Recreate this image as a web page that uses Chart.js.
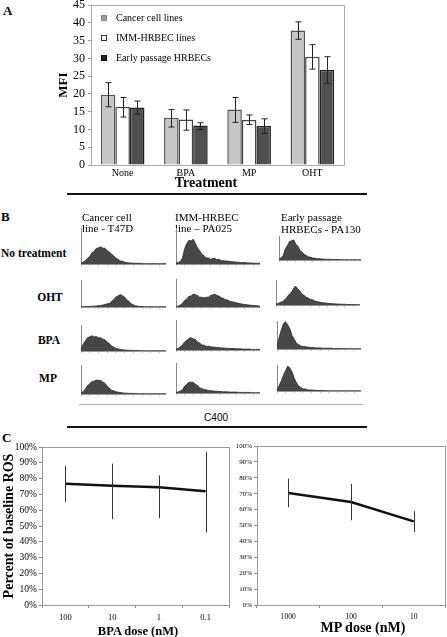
<!DOCTYPE html>
<html>
<head>
<meta charset="utf-8">
<script src="https://cdn.jsdelivr.net/npm/chart.js@4.4.1/dist/chart.umd.min.js"></script>
<style>
body { margin: 0; background: #fff; width: 447px; height: 637px; overflow: hidden; position: relative; font-family: "Liberation Serif", serif; }
canvas { position: absolute; }
.t { position: absolute; white-space: nowrap; line-height: 1; color: #000; }
.hr { position: absolute; }
.box { position: absolute; width: 6px; height: 6px; box-sizing: border-box; }
</style>
</head>
<body>
<script>
// panel A - MFI per treatment
const treatments = ['None', 'BPA', 'MP', 'OHT'];
const cancerMean = [19.8, 13.3, 15.6, 37.9];
const cancerLow  = [16.4, 10.7, 12.0, 35.4];
const cancerHigh = [23.2, 15.6, 19.0, 40.3];
const immMean  = [16.4, 12.8, 12.7, 30.5];
const immLow   = [13.5, 9.8, 11.4, 27.0];
const immHigh  = [19.0, 15.5, 14.1, 33.9];
const earlyMean = [16.2, 11.1, 11.0, 26.8];
const earlyLow  = [14.3, 10.0, 8.9, 23.0];
const earlyHigh = [18.0, 11.9, 13.0, 30.5];

// panel B - flow histograms (% of plot height per bin)
const t47dNone  = [2,5,9,16,21,31,35,43,45,48,44,44,37,34,27,23,16,13,8,8,5,4,3,3,2,2,2,2,1,1,1,1,1,1,1,1,1,1,1,1];
const pa025None = [3,4,7,17,42,57,66,64,69,57,45,37,27,23,17,17,13,15,16,12,13,9,10,8,8,7,6,6,5,5,4,4,4,3,3,3,2,2,2,2];
const pa130None = [3,9,19,46,60,77,80,84,66,57,40,33,23,19,13,12,8,8,5,6,4,4,3,3,3,2,2,2,2,2,1,1,1,1,1,1,1,1,1,1];
const t47dOht   = [1,1,2,2,2,3,3,4,5,6,7,9,12,13,21,27,37,41,46,42,37,27,21,12,8,5,3,2,2,1,1,1,1,1,1,1,1,1,1,1];
const pa025Oht  = [2,3,7,13,23,29,38,39,46,44,41,35,35,32,35,35,41,43,46,41,39,33,31,26,25,20,19,17,15,13,12,10,9,8,7,6,5,5,4,3];
const pa130Oht  = [3,6,11,13,21,29,42,48,63,76,66,57,44,39,31,28,22,21,16,14,12,10,9,8,7,6,5,5,4,4,3,3,3,2,2,2,2,2,1,1];
const t47dBpa   = [8,26,39,51,55,59,54,56,51,51,46,43,35,29,19,15,10,8,6,5,4,3,3,2,2,2,2,1,1,1,1,1,1,1,1,1,1,1,1,1];
const pa025Bpa  = [3,5,11,17,27,32,39,41,37,35,27,23,17,16,12,13,11,10,9,8,8,7,7,6,6,5,5,5,4,4,4,3,3,3,3,2,2,2,2,2];
const pa130Bpa  = [10,42,68,91,97,86,72,48,35,21,16,11,9,8,7,6,5,5,4,4,4,3,3,3,3,3,2,2,2,2,2,2,1,1,1,1,1,1,1,1];
const t47dMp    = [3,9,17,29,35,43,44,48,47,47,41,37,27,21,13,11,8,6,5,4,3,3,2,2,2,2,1,1,1,1,1,1,1,1,1,1,1,1,1,1];
const pa025Mp   = [2,3,7,11,23,29,36,36,36,29,25,17,15,11,11,8,8,7,6,6,5,5,4,4,4,3,3,3,3,2,2,2,2,2,2,1,1,1,1,1];
const pa130Mp   = [5,21,39,61,79,96,88,74,49,33,19,14,8,8,5,4,4,3,3,2,2,2,2,1,1,1,1,1,1,1,1,1,1,1,1,1,1,1,1,1];

// panel C - percent of baseline ROS
const bpaDoses = ['100', '10', '1', '0.1'];
const bpaRos   = [76.8, 75.4, 74.5, 72.0];
const bpaLow   = [65.3, 54.3, 55.0, 46.0];
const bpaHigh  = [88.0, 89.5, 82.0, 97.0];
const mpDoses = ['1000', '100', '10'];
const mpRos   = [70.5, 64.8, 52.6];
const mpLow   = [61.5, 53.3, 45.9];
const mpHigh  = [79.4, 76.2, 59.0];

Chart.defaults.font.family = '"Liberation Serif", serif';
Chart.defaults.color = '#000';

function addCanvas(left, top, w, h) {
    const c = document.createElement('canvas');
    c.width = w; c.height = h;
    c.style.left = left + 'px'; c.style.top = top + 'px';
    document.body.appendChild(c);
    return c;
}

// y is the vertical centre of the text
function txt(s, x, y, size, opts) {
    opts = opts || {};
    const d = document.createElement('div');
    d.className = 't';
    d.textContent = s;
    d.style.fontSize = size + 'px';
    if (opts.bold) d.style.fontWeight = 'bold';
    if (opts.family) d.style.fontFamily = opts.family;
    let tx = '0';
    if (opts.align === 'c') tx = '-50%';
    if (opts.align === 'r') tx = '-100%';
    d.style.left = x + 'px';
    d.style.top = y + 'px';
    d.style.transform = 'translate(' + tx + ',-50%)';
    document.body.appendChild(d);
}

function hline(x1, x2, y, color, w) {
    const d = document.createElement('div');
    d.className = 'hr';
    d.style.left = x1 + 'px'; d.style.top = y + 'px';
    d.style.width = (x2 - x1) + 'px'; d.style.height = w + 'px';
    d.style.background = color;
    document.body.appendChild(d);
}

const frame = {
    id: 'frame',
    afterDraw(chart, args, opts) {
        const a = chart.chartArea, ctx = chart.ctx;
        ctx.save();
        ctx.strokeStyle = opts.color || '#aaa';
        ctx.lineWidth = 1;
        ctx.strokeRect(Math.round(a.left) + 0.5, Math.round(a.top) + 0.5, Math.round(a.right - a.left), Math.round(a.bottom - a.top));
        ctx.restore();
    }
};

const errorBars = {
    id: 'errorBars',
    afterDatasetsDraw(chart, args, opts) {
        const ctx = chart.ctx, y = chart.scales.y;
        chart.data.datasets.forEach((ds, i) => {
            if (!ds.errLow) return;
            chart.getDatasetMeta(i).data.forEach((el, j) => {
                const top = y.getPixelForValue(ds.errHigh[j]);
                const bot = y.getPixelForValue(ds.errLow[j]);
                const x = Math.round(el.x) + 0.5;
                ctx.save();
                ctx.strokeStyle = opts.color;
                ctx.lineWidth = 1;
                ctx.beginPath();
                ctx.moveTo(x, top); ctx.lineTo(x, bot);
                if (opts.cap) {
                    ctx.moveTo(x - opts.cap, top); ctx.lineTo(x + opts.cap, top);
                    ctx.moveTo(x - opts.cap, bot); ctx.lineTo(x + opts.cap, bot);
                }
                ctx.stroke();
                ctx.restore();
            });
        });
    }
};

// ---------- A ----------
txt('A', 3, 10, 13, {bold: true});
new Chart(addCanvas(52, -5, 300, 190), {
    type: 'bar',
    data: {
        labels: treatments,
        datasets: [
            {label: 'Cancer cell lines', data: cancerMean, errLow: cancerLow, errHigh: cancerHigh,
             backgroundColor: '#c6c6c6', borderColor: '#555', borderWidth: 1.5},
            {label: 'IMM-HRBEC lines', data: immMean, errLow: immLow, errHigh: immHigh,
             backgroundColor: '#ffffff', borderColor: '#444', borderWidth: 1.5},
            {label: 'Early passage HRBECs', data: earlyMean, errLow: earlyLow, errHigh: earlyHigh,
             backgroundColor: '#505050', borderColor: '#222', borderWidth: 1.5}
        ]
    },
    options: {
        responsive: false, animation: false,
        layout: {padding: {top: 10, right: 8, left: 0, bottom: 0}},
        datasets: {bar: {categoryPercentage: 0.69, barPercentage: 1}},
        plugins: {legend: {display: false}, tooltip: {enabled: false},
                  frame: {color: '#aaa'}, errorBars: {color: '#222', cap: 3}},
        scales: {
            x: {grid: {display: false, drawTicks: false}, border: {color: '#aaa'},
                ticks: {padding: 2, font: {size: 10}},
                afterFit(s) { s.height = 20; }},
            y: {min: 0, max: 45,
                ticks: {stepSize: 5, padding: 3, font: {size: 12}},
                grid: {display: true, drawOnChartArea: false, tickLength: 3, color: '#999'},
                border: {color: '#aaa'},
                title: {display: true, text: 'MFI', font: {size: 13, weight: 'bold'}, padding: {top: 4, bottom: 0}},
                afterFit(s) { s.width = 39; }}
        }
    },
    plugins: [frame, errorBars]
});

// legend inside panel A
const legendItems = [['Cancer cell lines', '#9a9a9a', '#888'], ['IMM-HRBEC lines', '#fff', '#333'], ['Early passage HRBECs', '#222', '#111']];
legendItems.forEach((it, i) => {
    const b = document.createElement('div');
    b.className = 'box';
    b.style.left = '101px'; b.style.top = (15 + i * 20) + 'px';
    b.style.background = it[1]; b.style.border = '1px solid ' + it[2];
    document.body.appendChild(b);
    txt(it[0], 116, 18 + i * 20, 10);
});
txt('Treatment', 206, 183, 14, {bold: true, align: 'c'});
hline(67, 367, 193, '#111', 1.5);

// ---------- B ----------
txt('B', 1, 216, 13, {bold: true});
txt('Cancer cell', 82, 217, 11);
txt('line - T47D', 82, 228, 11);
txt('IMM-HRBEC', 175, 217, 11);
txt('line \u2013 PA025', 175, 228, 11);
txt('Early passage', 281, 217, 11);
txt('HRBECs - PA130', 281, 228.5, 11);
txt('No treatment', 1, 254, 11.5, {bold: true});
txt('OHT', 50, 298, 11.5, {bold: true, align: 'c'});
txt('BPA', 49, 341, 11.5, {bold: true, align: 'c'});
txt('MP', 48, 379, 11.5, {bold: true, align: 'c'});

const histograms = [t47dNone, pa025None, pa130None, t47dOht, pa025Oht, pa130Oht,
                    t47dBpa, pa025Bpa, pa130Bpa, t47dMp, pa025Mp, pa130Mp];
// [left, top, right, bottom] of each histogram's axes
const histBoxes = [
    [80, 228, 165, 264], [175, 228, 259, 264], [278, 236, 360, 260],
    [80, 280, 165, 307], [175, 279, 259, 307], [275, 280, 359, 305],
    [80, 325, 165, 351], [175, 320, 259, 350], [276, 321, 360, 349],
    [80, 365, 165, 394], [175, 363, 259, 393], [276, 365, 360, 391]
];
const bins = t47dNone.map((_, i) => i);
histBoxes.forEach((p, k) => {
    new Chart(addCanvas(p[0], p[1], p[2] - p[0] + 1, p[3] - p[1] + 3), {
        type: 'line',
        data: {labels: bins, datasets: [{data: histograms[k], fill: 'origin',
            backgroundColor: '#474747', borderColor: '#2a2a2a', borderWidth: 0.8, pointRadius: 0, tension: 0}]},
        options: {
            responsive: false, animation: false,
            layout: {padding: 0},
            plugins: {legend: {display: false}, tooltip: {enabled: false}},
            scales: {
                x: {grid: {display: true, drawOnChartArea: false, tickLength: 2,
                           color: c => (c.index % 4 ? 'rgba(0,0,0,0)' : '#bbb')},
                    ticks: {display: false, autoSkip: false}, border: {color: '#999'},
                    afterFit(s) { s.height = 3; }},
                y: {min: 0, max: 100, grid: {display: false, drawTicks: false},
                    ticks: {display: false}, border: {color: '#888'},
                    afterFit(s) { s.width = 1; }}
            }
        }
    });
});

hline(79, 363, 404, '#aaa', 1);
txt('C400', 228, 418, 10, {align: 'r', family: '"Liberation Sans", sans-serif'});
hline(67, 367, 426, '#111', 1.5);

// ---------- C ----------
txt('C', 2, 437, 13, {bold: true});

function rosChart(canvas, doses, ros, lo, hi, yWidth, padRight, tickSize, xSize, yTitle) {
    new Chart(canvas, {
        type: 'line',
        data: {labels: doses, datasets: [{data: ros, errLow: lo, errHigh: hi,
            borderColor: '#111', borderWidth: 2.5, pointRadius: 0, tension: 0, fill: false}]},
        options: {
            responsive: false, animation: false,
            layout: {padding: {top: 10, right: padRight, left: 0, bottom: 0}},
            plugins: {legend: {display: false}, tooltip: {enabled: false},
                      frame: {color: '#999'}, errorBars: {color: '#333', cap: 0}},
            scales: {
                x: {type: 'category', offset: true,
                    grid: {display: true, offset: true, drawOnChartArea: false, tickLength: 3, color: '#888'},
                    ticks: {padding: 5, font: {size: xSize}}, border: {color: '#999'},
                    afterFit(s) { s.height = 32; }},
                y: {min: 0, max: 100,
                    ticks: {stepSize: 10, padding: 2, font: {size: tickSize}, callback: v => v + '%'},
                    grid: {display: true, drawOnChartArea: false, tickLength: 3, color: '#888'},
                    border: {color: '#999'},
                    title: {display: !!yTitle, text: yTitle || '', font: {size: 14, weight: 'bold'}, padding: {top: 1, bottom: 0}},
                    afterFit(s) { s.width = yWidth; }}
            }
        },
        plugins: [frame, errorBars]
    });
}

rosChart(addCanvas(0, 437, 232, 200), bpaDoses, bpaRos, bpaLow, bpaHigh, 42, 3, 9.5, 8.5, 'Percent of baseline ROS');
rosChart(addCanvas(230, 436, 217, 201), mpDoses, mpRos, mpLow, mpHigh, 27, 2, 7, 7.5, '');
txt('BPA dose (nM)', 138, 631, 12.5, {bold: true, align: 'c'});
txt('MP dose (nM)', 363, 628, 14, {bold: true, align: 'c'});
</script>
</body>
</html>
